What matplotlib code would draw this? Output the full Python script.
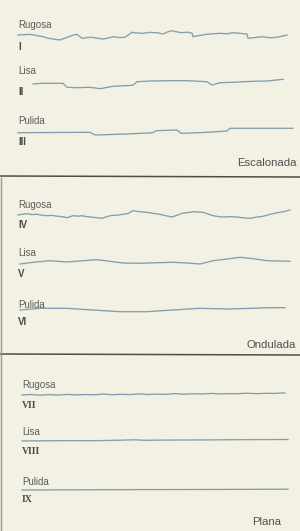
"""
Surface profile comparison: three textures (Rugosa / Lisa / Pulida)
for three joint shapes (Escalonada / Ondulada / Plana).
"""
import matplotlib

matplotlib.use("Agg")
import matplotlib.pyplot as plt

# --- profile data: position along the trace (px) and height (px, up = +) ---
x_i = [18, 24, 30, 36, 43, 48, 53, 60, 67, 72, 77, 82, 87, 92, 97, 103, 108,
       113, 119, 125, 132, 137, 143, 150, 157, 163, 168, 172, 177, 182, 187,
       192, 193, 200, 207, 213, 220, 227, 233, 240, 247, 248, 255, 263, 270,
       277, 287]
h_i = [1.0, 1.3, 1.7, 0.6, -0.7, -2.2, -3.0, -4.0, -1.3, 0.5, 1.7, -2.3,
       -1.6, -1.3, -2.2, -3.0, -2.1, -0.7, -1.5, -1.3, 3.7, 3.0, 2.7, 3.6,
       3.3, 2.0, 4.2, 5.3, 4.1, 3.3, 3.8, 3.0, -0.7, 0.6, 1.7, 2.2, 2.7, 2.2,
       3.3, 2.6, 2.0, -2.3, -1.5, -0.7, -1.8, -1.3, 1.0]

x_ii = [33, 43, 63, 67, 77, 90, 100, 113, 133, 137, 150, 167, 187, 207, 212,
        220, 233, 253, 267, 283]
h_ii = [0.0, 0.7, 0.7, -3.3, -3.7, -3.3, -4.7, -2.3, -1.3, 2.3, 3.0, 3.3,
        3.3, 2.3, -1.0, 1.3, 1.7, 2.7, 3.0, 4.7]

x_iii = [18, 90, 95, 127, 153, 156, 177, 181, 200, 227, 230, 293]
h_iii = [0.3, 0.7, -2.0, -1.0, 0.3, 2.3, 3.0, -0.3, 0.3, 2.0, 4.7, 4.7]

x_iv = [18, 22, 27, 32, 37, 42, 47, 52, 58, 63, 67, 73, 78, 82, 86, 90, 96,
        102, 106, 110, 117, 123, 128, 133, 140, 147, 153, 160, 166, 172,
        177, 182, 188, 193, 198, 203, 208, 213, 218, 223, 230, 237, 243,
        250, 256, 263, 270, 277, 284, 290]
h_iv = [0.0, 0.8, 1.3, 0.4, 0.7, -0.2, -0.7, -0.4, -1.3, -1.8, -2.7, -0.7,
        -1.2, -0.7, -1.5, -2.0, -2.6, -3.3, -2.0, -0.7, -0.2, 0.7, 1.5, 4.3,
        3.2, 2.7, 1.6, 0.7, -0.8, -2.0, -0.3, 1.7, 2.4, 3.3, 3.0, 2.7, 1.0,
        -0.7, -1.5, -2.0, -1.6, -2.0, -2.8, -3.3, -2.2, -1.3, 0.6, 2.3, 3.4,
        5.0]

x_v = [20, 33, 50, 67, 83, 97, 110, 123, 140, 157, 173, 187, 200, 213, 227,
       240, 253, 267, 290]
h_v = [-1.0, 0.7, 2.3, 1.0, 2.3, 3.3, 1.7, 0.0, -0.3, 0.3, 0.7, 0.0, -1.0,
       2.3, 4.0, 5.7, 4.3, 2.3, 1.7]

x_vi = [20, 40, 67, 93, 120, 147, 173, 200, 227, 253, 267, 285]
h_vi = [-1.0, 0.7, 0.7, -1.0, -2.7, -2.7, -1.0, 0.7, 0.0, 0.7, 1.3, 1.3]

x_vii = [22, 31, 40, 49, 58, 67, 76, 85, 94, 103, 112, 121, 130, 139, 148,
         157, 166, 175, 184, 193, 202, 211, 220, 229, 238, 247, 256, 265,
         274, 285]
h_vii = [0.0, 0.5, -0.2, 0.4, -0.1, 0.6, 0.1, 0.5, 0.2, 0.9, 0.3, 0.7, 0.4,
         1.1, 0.5, 0.9, 0.6, 1.4, 0.8, 1.2, 1.0, 1.6, 1.1, 1.4, 1.3, 1.8,
         1.3, 1.7, 1.6, 2.1]

x_viii = [22, 45, 70, 95, 120, 135, 145, 160, 185, 210, 235, 260, 288]
h_viii = [0.0, 0.2, 0.4, 0.3, 0.8, 1.2, 0.7, 0.9, 1.0, 1.1, 1.3, 1.4, 1.5]

x_ix = [22, 80, 140, 200, 260, 288]
h_ix = [0.0, 0.2, 0.4, 0.5, 0.7, 0.8]

profiles = [x_i, x_ii, x_iii, x_iv, x_v, x_vi, x_vii, x_viii, x_ix]
heights = [h_i, h_ii, h_iii, h_iv, h_v, h_vi, h_vii, h_viii, h_ix]
textures = ["Rugosa", "Lisa", "Pulida"] * 3
numerals = ["I", "II", "III", "IV", "V", "VI", "VII", "VIII", "IX"]
shapes = ["Escalonada", "Ondulada", "Plana"]

# --- layout (pixel coordinates, y down) ---
baselines = [36, 84, 133, 215, 263, 309, 395, 441, 490]
label_y = [25, 71, 121, 205, 253, 305, 385, 432, 482]
numeral_y = [47, 92, 142, 225, 274, 322, 406, 452, 500]
label_x = [18, 18, 18, 18, 18, 18, 22, 22, 22]
shape_y = [163, 345, 522]
shape_x = [297, 296, 281]
separators_y = [176, 354]

BG = "#f3f1e4"
LINE = "#829fae"
TEXT = "#5c5c5c"

fig = plt.figure(figsize=(3.0, 5.31), dpi=100)
fig.patch.set_facecolor(BG)
ax = fig.add_axes([0, 0, 1, 1])
ax.set_facecolor(BG)
ax.set_xlim(0, 300)
ax.set_ylim(531, 0)
ax.axis("off")

for xs, hs, base in zip(profiles, heights, baselines):
    ax.plot(xs, [base - h for h in hs], color=LINE, lw=0.95,
            solid_joinstyle="round")

for k in range(9):
    ax.text(label_x[k], label_y[k], textures[k], fontsize=7,
            family="Liberation Sans", color=TEXT, va="center", ha="left")
    serif = k >= 6
    ax.text(label_x[k], numeral_y[k], numerals[k], fontsize=7,
            family="Liberation Serif" if serif else "Liberation Sans",
            weight="bold", color="#4a4a4a", va="center", ha="left")

for name, sx, sy in zip(shapes, shape_x, shape_y):
    ax.text(sx, sy, name, fontsize=8.2, family="Liberation Sans",
            color="#505050", va="center", ha="right")

# panel separators and scanned page edge
for sy in separators_y:
    ax.plot([0, 300], [sy, sy + 1], color="#4d4d4d", lw=1.1)
ax.plot([1, 1], [178, 531], color="#9a9a94", lw=1.0)

fig.savefig("out.png", dpi=100, facecolor=BG)
plt.close(fig)
